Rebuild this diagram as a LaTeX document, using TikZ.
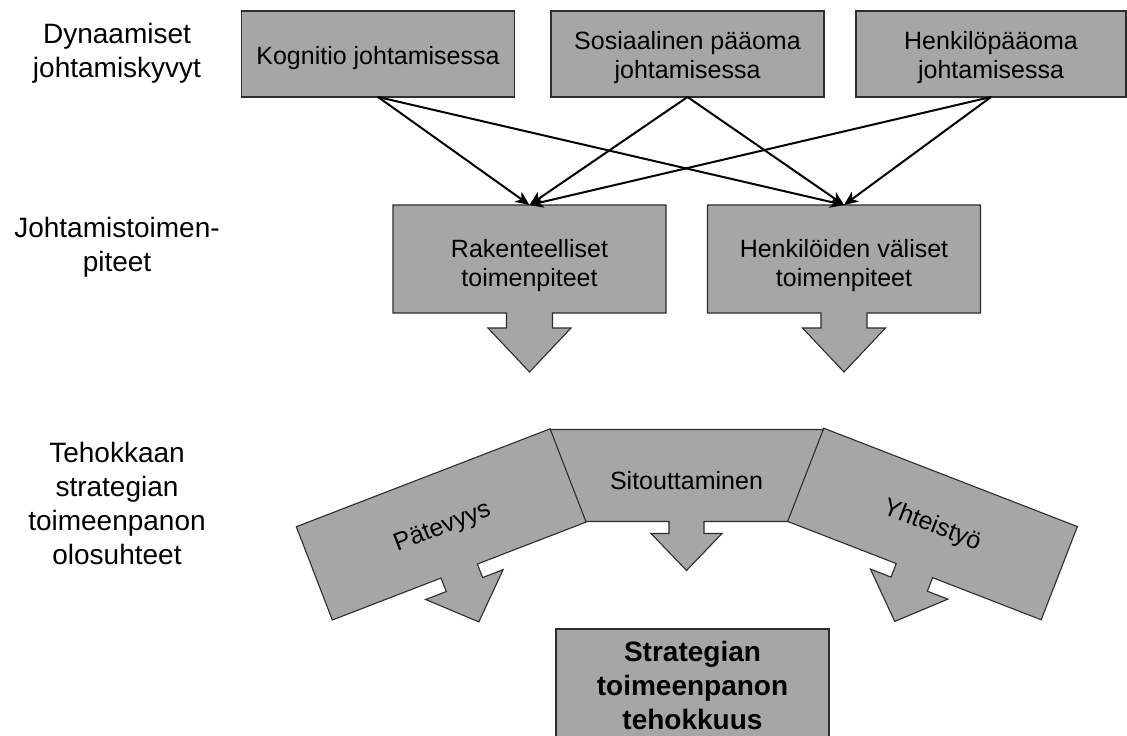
\documentclass[tikz,border=0pt]{standalone}
\usepackage{fontspec}
\setmainfont{Liberation Sans}
\usetikzlibrary{arrows.meta}
\definecolor{boxfill}{RGB}{166,166,166}
\definecolor{boxline}{RGB}{45,45,45}
% callout outline centred at the origin: width, height, stem width, stem length, head width, head height
\newcommand{\calloutpath}[6]{%
  \filldraw[shapestyle] (-#1/2,-#2/2) -- (#1/2,-#2/2) -- (#1/2,#2/2) -- (#3/2,#2/2) -- (#3/2,#2/2+#4) -- (#5/2,#2/2+#4) -- (0,#2/2+#4+#6) -- (-#5/2,#2/2+#4) -- (-#3/2,#2/2+#4) -- (-#3/2,#2/2) -- (-#1/2,#2/2) -- cycle;}
\begin{document}
\begin{tikzpicture}[x=1pt,y=-1pt,
  boxstyle/.style={draw=boxline, line width=1.3pt, fill=boxfill, minimum width=273pt, minimum height=86pt, inner sep=0pt, outer sep=0pt},
  shapestyle/.style={draw=boxline, line width=1.1pt, fill=boxfill, line join=miter},
  boxtext/.style={font=\fontsize{25}{29}\selectfont, align=center, inner sep=0pt, text=black},
  sidetext/.style={font=\fontsize{28}{34}\selectfont, align=center, inner sep=0pt},
  boldtext/.style={font=\bfseries\fontsize{28}{34}\selectfont, align=center, inner sep=0pt},
  conn/.style={line width=2pt, -{Stealth[length=14pt,width=12pt,inset=4pt]}},
  anchorbox/.style={minimum width=273pt, minimum height=108pt, inner sep=0pt, outer sep=0pt}
]
\useasboundingbox (0,0) rectangle (1127,736);
\clip (0,0) rectangle (1127,736);

% left-hand level labels
\node[sidetext] (l1) at (117,53) {Dynaamiset\\johtamiskyvyt};
\node[sidetext] (l2) at (117,247) {Johtamistoimen-\\piteet};
\node[sidetext] (l3) at (117,503) {Tehokkaan\\strategian\\toimeenpanon\\olosuhteet};

% top row
\node[boxstyle] (k) at (378,54) {};
\node[boxtext] (kt) at (378,58) {Kognitio johtamisessa};
\node[boxstyle] (s) at (687.5,54) {};
\node[boxtext] (st) at (687.5,57.5) {Sosiaalinen pääoma\\johtamisessa};
\node[boxstyle, minimum width=270pt] (h) at (991,54) {};
\node[boxtext] (ht) at (991,57.5) {Henkilöpääoma\\johtamisessa};

% middle row callouts
\begin{scope}[shift={(529.5,259)}]
  \calloutpath{273}{108}{46}{15}{83}{44}
\end{scope}
\node[anchorbox] (ra) at (529.5,259) {};
\node[boxtext] (rat) at (529.5,266) {Rakenteelliset\\toimenpiteet};

\begin{scope}[shift={(844,259)}]
  \calloutpath{273}{108}{46}{15}{83}{44}
\end{scope}
\node[anchorbox] (rb) at (844,259) {};
\node[boxtext] (rbt) at (844,266) {Henkilöiden väliset\\toimenpiteet};

% connectors
\draw[conn] (k.south) -- (ra.north);
\draw[conn] (k.south) -- (rb.north);
\draw[conn] (s.south) -- (ra.north);
\draw[conn] (s.south) -- (rb.north);
\draw[conn] (h.south) -- (ra.north);
\draw[conn] (h.south) -- (rb.north);

% bottom row of conditions
\begin{scope}[shift={(686.5,475.5)}]
  \calloutpath{273}{92}{35}{12}{71}{37}
\end{scope}
\node[boxtext] (sit) at (686.5,481) {Sitouttaminen};

\begin{scope}[shift={(441.2,524.4)}, rotate=21.1]
  \calloutpath{272}{100}{39}{14.5}{83}{40}
  \node[boxtext, transform shape] (pat) at (0,4) {Pätevyys};
\end{scope}

\begin{scope}[shift={(932.5,524)}, rotate=-21.2]
  \calloutpath{272}{100}{39}{14.5}{83}{40}
  \node[boxtext, transform shape] (yht) at (0,2) {Yhteistyö};
\end{scope}

% result box
\node[boxstyle, minimum height=130pt, anchor=north] (res) at (692.5,629) {};
\node[boldtext] (rest) at (692.5,685.5) {Strategian\\toimeenpanon\\tehokkuus};
\end{tikzpicture}
\end{document}
